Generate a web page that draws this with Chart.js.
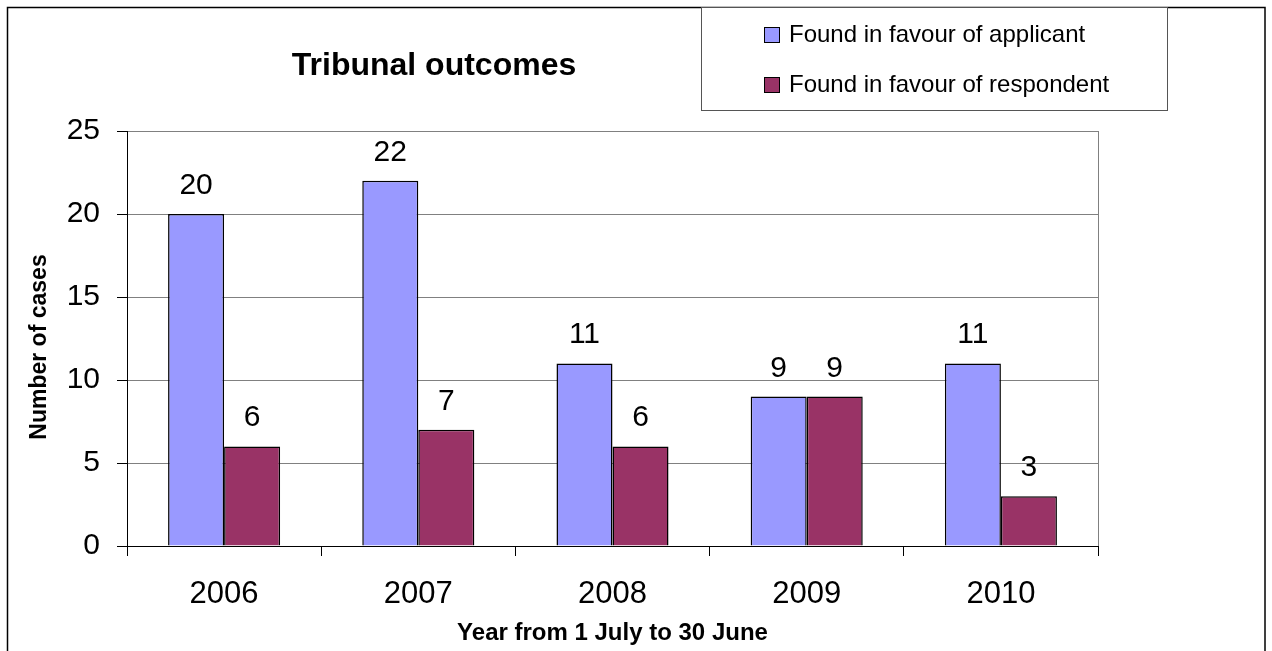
<!DOCTYPE html>
<html>
<head>
<meta charset="utf-8">
<script src="https://cdn.jsdelivr.net/npm/chart.js@4/dist/chart.umd.min.js"></script>
<style>
html,body{margin:0;padding:0;background:#fff;}
#wrap{width:1272px;height:651px;position:relative;}
</style>
</head>
<body>
<div id="wrap"><canvas id="c" width="1272" height="651"></canvas></div>
<script>
const categories = ['2006', '2007', '2008', '2009', '2010'];
const applicant = [20, 22, 11, 9, 11];
const respondent = [6, 7, 6, 9, 3];
const seriesNames = ['Found in favour of applicant', 'Found in favour of respondent'];
const seriesColors = ['#9999FF', '#993366'];
const yTicks = [0, 5, 10, 15, 20, 25];
const chartTitle = 'Tribunal outcomes';
const xTitle = 'Year from 1 July to 30 June';
const yTitle = 'Number of cases';

const FONT = '"Liberation Sans", Arial, sans-serif';

const decor = {
  id: 'decor',
  beforeDraw(chart) {
    const ctx = chart.ctx;
    ctx.save();
    ctx.fillStyle = '#fff';
    ctx.fillRect(0, 0, chart.width, chart.height);
    ctx.restore();
  },
  afterDraw(chart) {
    const ctx = chart.ctx;
    const a = chart.chartArea;
    ctx.save();
    // plot area right border
    ctx.strokeStyle = '#808080';
    ctx.lineWidth = 1;
    ctx.beginPath();
    ctx.moveTo(Math.round(a.right) + 0.5, a.top);
    ctx.lineTo(Math.round(a.right) + 0.5, a.bottom);
    ctx.stroke();
    // outer frame
    ctx.strokeStyle = '#000';
    ctx.lineWidth = 1.5;
    ctx.strokeRect(7.5, 7.5, 1257.5, 700);
    // title
    ctx.fillStyle = '#000';
    ctx.font = 'bold 32px ' + FONT;
    ctx.textAlign = 'center';
    ctx.textBaseline = 'alphabetic';
    ctx.fillText(chartTitle, 434, 75);
    // y axis title
    ctx.save();
    ctx.translate(40, 347);
    ctx.rotate(-Math.PI / 2);
    ctx.font = 'bold 23px ' + FONT;
    ctx.textAlign = 'center';
    ctx.textBaseline = 'middle';
    ctx.fillText(yTitle, 0, 0);
    ctx.restore();
    // legend box
    ctx.fillStyle = '#fff';
    ctx.fillRect(701.5, 7.5, 466, 103);
    ctx.strokeStyle = '#555';
    ctx.lineWidth = 1;
    ctx.strokeRect(701.5, 7.5, 466, 103);
    ctx.font = '24px ' + FONT;
    ctx.textAlign = 'left';
    chart.data.datasets.forEach((ds, i) => {
      const y = 27 + i * 50;
      ctx.fillStyle = ds.backgroundColor;
      ctx.fillRect(764.5, y + 0.5, 15, 15);
      ctx.strokeStyle = '#000';
      ctx.strokeRect(764.5, y + 0.5, 15, 15);
      ctx.fillStyle = '#000';
      ctx.fillText(ds.label, 789, y + 15);
    });
    ctx.restore();
  },
  afterDatasetsDraw(chart) {
    const ctx = chart.ctx;
    ctx.save();
    ctx.fillStyle = '#000';
    ctx.font = '30px ' + FONT;
    ctx.textAlign = 'center';
    ctx.textBaseline = 'alphabetic';
    chart.data.datasets.forEach((ds, di) => {
      const meta = chart.getDatasetMeta(di);
      meta.data.forEach((el, i) => {
        ctx.fillText(String(ds.data[i]), el.x, el.y - 20);
      });
    });
    ctx.restore();
  }
};

new Chart(document.getElementById('c'), {
  type: 'bar',
  data: {
    labels: categories,
    datasets: [
      { label: seriesNames[0], data: applicant, backgroundColor: seriesColors[0], borderColor: '#000', borderWidth: 1.5 },
      { label: seriesNames[1], data: respondent, backgroundColor: seriesColors[1], borderColor: '#000', borderWidth: 1.5 }
    ]
  },
  options: {
    responsive: false,
    animation: false,
    devicePixelRatio: 1,
    layout: { padding: { top: 131, right: 174, left: 0, bottom: 0 } },
    datasets: { bar: { barPercentage: 1, categoryPercentage: 0.577 } },
    plugins: { legend: { display: false }, title: { display: false }, tooltip: { enabled: false } },
    scales: {
      x: {
        offset: true,
        grid: { offset: true, drawOnChartArea: false, drawTicks: true, tickLength: 10, tickColor: '#000', color: '#000' },
        border: { color: '#000', width: 1 },
        ticks: { color: '#000', font: { family: FONT, size: 31 }, padding: 20, maxRotation: 0 },
        title: { display: true, text: xTitle, color: '#000', font: { family: FONT, size: 24, weight: 'bold' }, padding: { top: 0, bottom: 3 } },
        afterFit(s) { s.height = 105; }
      },
      y: {
        min: 0, max: 25,
        afterBuildTicks(s) { s.ticks = yTicks.map(v => ({ value: v })); },
        grid: { color: c => (c.tick && c.tick.value === 0) ? '#000' : '#808080', tickColor: '#000', tickLength: 10, drawTicks: true },
        border: { color: '#000', width: 1 },
        ticks: { color: '#000', font: { family: FONT, size: 30 }, padding: 17 },
        title: { display: false },
        afterFit(s) { s.width = 127; }
      }
    }
  },
  plugins: [decor]
});
</script>
</body>
</html>
